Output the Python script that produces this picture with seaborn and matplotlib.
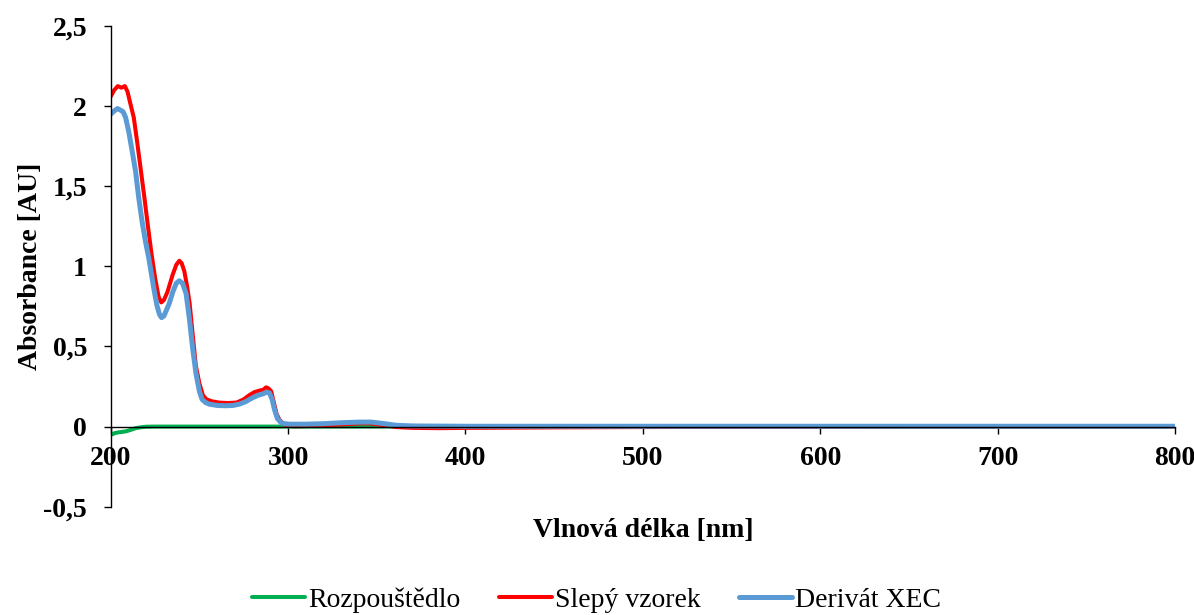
import matplotlib
matplotlib.use("Agg")
import matplotlib.pyplot as plt
from matplotlib.ticker import FuncFormatter
import seaborn as sns
import pandas as pd

# Wavelengths [nm] and absorbances [AU] of the three spectra
wl_solvent = [200, 201, 202.5, 204.5, 206.5, 208.5, 210, 212, 214, 216, 218, 220,
              225, 230, 250, 300, 400, 500, 600, 700, 800]
abs_solvent = [-0.04, -0.048, -0.04, -0.036, -0.033, -0.03, -0.025, -0.018, -0.01,
               -0.006, -0.003, -0.001, 0.0, 0.0, 0.0, 0.0, 0.001, 0.002, 0.002,
               0.002, 0.002]

wl_blank = [200, 202, 204, 206, 208, 209.5, 211, 213, 215, 217, 219, 221, 223, 225,
            227, 228.5, 230, 232, 235, 237, 238.7, 240, 241.5, 243, 244.5, 246, 248,
            250, 252, 254, 257, 261, 266, 271, 275, 278, 281, 284, 286, 287.6, 289,
            290.5, 292, 293.5, 295, 297, 299, 303, 310, 320, 330, 340, 346, 352, 361,
            370, 385, 400, 450, 500, 600, 700, 800]
abs_blank = [2.06, 2.10, 2.125, 2.115, 2.125, 2.09, 2.02, 1.93, 1.77, 1.60, 1.43, 1.25,
             1.08, 0.93, 0.81, 0.775, 0.79, 0.84, 0.95, 1.01, 1.035, 1.02, 0.97, 0.88,
             0.77, 0.60, 0.38, 0.27, 0.195, 0.17, 0.158, 0.15, 0.147, 0.15, 0.17, 0.195,
             0.215, 0.225, 0.23, 0.245, 0.238, 0.22, 0.15, 0.08, 0.045, 0.02, 0.008,
             0.002, 0.003, 0.008, 0.013, 0.02, 0.02, 0.012, -0.003, -0.008, -0.01,
             -0.008, -0.005, -0.003, -0.001, 0.0, 0.0]

wl_xec = [200, 202, 203.8, 205.5, 207, 208.4, 210.2, 212.1, 214, 215.8, 217.7, 219.7,
          221.5, 223, 224.5, 226, 227.5, 228.7, 230, 232.9, 235, 237, 238.7, 240.5,
          242.5, 244.3, 246.2, 248.1, 250, 251.5, 253.5, 255.6, 260, 265, 269, 272.5,
          276, 280, 283, 286, 288, 289.5, 291, 292.5, 294, 296, 298, 301, 310, 320,
          330, 340, 347, 353, 361, 370, 385, 400, 450, 500, 600, 700, 800]
abs_xec = [1.95, 1.97, 1.985, 1.975, 1.965, 1.93, 1.84, 1.72, 1.595, 1.43, 1.28, 1.15,
           1.05, 0.95, 0.85, 0.76, 0.70, 0.68, 0.69, 0.765, 0.84, 0.895, 0.91, 0.895,
           0.83, 0.68, 0.49, 0.33, 0.22, 0.17, 0.15, 0.14, 0.132, 0.13, 0.132, 0.14,
           0.155, 0.18, 0.195, 0.205, 0.215, 0.21, 0.17, 0.10, 0.05, 0.025, 0.018,
           0.015, 0.015, 0.018, 0.024, 0.028, 0.028, 0.02, 0.008, 0.004, 0.003, 0.002,
           0.002, 0.002, 0.002, 0.002, 0.002]

series_names = ["Rozpouštědlo", "Slepý vzorek", "Derivát XEC"]
series_colors = ["#00B050", "#FF0000", "#5B9BD5"]
series_widths = [2.9, 2.9, 3.6]

x_ticks = [200, 300, 400, 500, 600, 700, 800]
y_ticks = [-0.5, 0, 0.5, 1, 1.5, 2, 2.5]

sns.set_theme(style="white")
plt.rcParams["font.family"] = ["Liberation Serif", "DejaVu Serif"]
plt.rcParams["text.color"] = "black"
plt.rcParams["axes.labelcolor"] = "black"

fig = plt.figure(figsize=(11.94, 6.15), dpi=100)
ax = fig.add_axes([0.0927, 0.1761, 0.8914, 0.7816])

frames = [
    pd.DataFrame({"wl": wl_solvent, "A": abs_solvent}),
    pd.DataFrame({"wl": wl_blank, "A": abs_blank}),
    pd.DataFrame({"wl": wl_xec, "A": abs_xec}),
]
for df, name, col, lw in zip(frames, series_names, series_colors, series_widths):
    sns.lineplot(data=df, x="wl", y="A", ax=ax, color=col, linewidth=lw,
                 label=name, legend=False, solid_capstyle="round")

ax.set_xlim(200, 800)
ax.set_ylim(-0.5, 2.5)
ax.set_xticks(x_ticks)
ax.set_yticks(y_ticks)


def comma(v, pos):
    return f"{v:g}".replace(".", ",")


ax.yaxis.set_major_formatter(FuncFormatter(comma))
ax.xaxis.set_major_formatter(FuncFormatter(lambda v, p: f"{v:g}"))

for side in ["top", "right"]:
    ax.spines[side].set_visible(False)
ax.spines["bottom"].set_position(("data", 0))
for side in ["left", "bottom"]:
    ax.spines[side].set_color("black")
    ax.spines[side].set_linewidth(1.0)

ax.tick_params(axis="both", which="major", direction="out", length=5, width=1,
               color="black", labelsize=20, labelcolor="black")
ax.tick_params(axis="x", pad=9, bottom=True)
ax.tick_params(axis="y", pad=12, left=True)
for lab in ax.get_xticklabels() + ax.get_yticklabels():
    lab.set_fontweight("bold")

ax.set_xlabel("Vlnová délka [nm]", fontsize=20, fontweight="bold", va="center",
              color="black")
ax.xaxis.set_label_coords(0.5, -0.0485)
ax.set_ylabel("Absorbance [AU]", fontsize=20, fontweight="bold", va="center",
              color="black")
ax.yaxis.set_label_coords(-0.0758, 0.5)

handles, labels = ax.get_legend_handles_labels()
leg = fig.legend(handles, labels, loc="center", bbox_to_anchor=(0.4996, 0.0244),
                 ncol=3, frameon=False, fontsize=20, handlelength=1.9,
                 handletextpad=0.1, columnspacing=1.4)
for t in leg.get_texts():
    t.set_color("black")

fig.savefig("out.png", dpi=100)
